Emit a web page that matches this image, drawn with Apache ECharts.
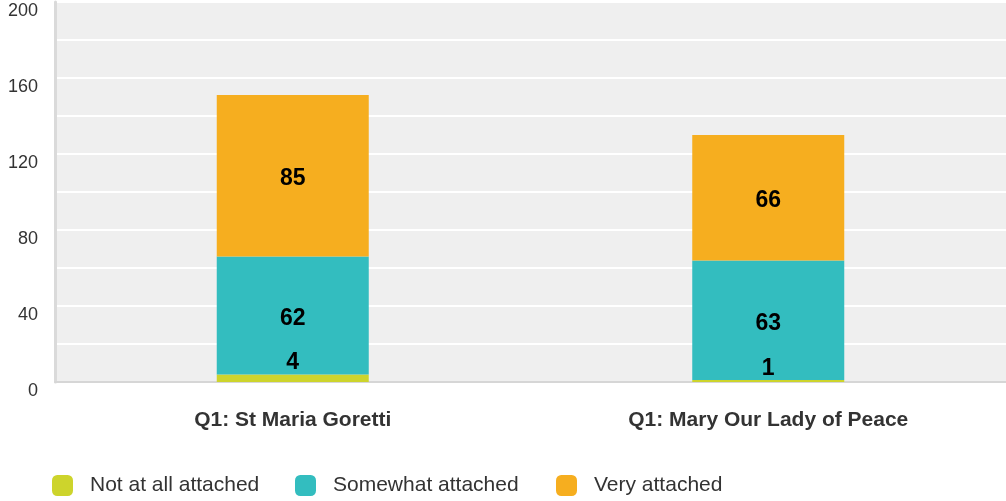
<!DOCTYPE html>
<html>
<head>
<meta charset="utf-8">
<title>Attachment chart</title>
<style>
html, body { margin: 0; padding: 0; background: #fff; }
#chart { width: 1006px; height: 501px; }
</style>
</head>
<body>
<div id="chart"></div>
<script src="https://cdn.jsdelivr.net/npm/echarts@6/dist/echarts.min.js"></script>
<script>
var categories = ['Q1: St Maria Goretti', 'Q1: Mary Our Lady of Peace'];
var seriesNames = ['Not at all attached', 'Somewhat attached', 'Very attached'];
var notAtAll = [4, 1];
var somewhat = [62, 63];
var very = [85, 66];
var yTicks = [0, 40, 80, 120, 160, 200];

var FONT = 'Liberation Sans, Arial, sans-serif';
var myChart = echarts.init(document.getElementById('chart'));

var lbl = {
    show: true,
    color: '#000',
    fontWeight: 'bold',
    fontSize: 23,
    fontFamily: FONT
};

// one legend per item so each sits where it does in the original
var legendLeft = [52, 295, 556];
var legends = seriesNames.map(function (n, i) {
    return {
        left: legendLeft[i], top: 475, padding: 0,
        itemWidth: 21, itemHeight: 21,
        icon: 'roundRect',
        textStyle: { color: '#333', fontSize: 21, fontFamily: FONT, padding: [0, 0, 0, 12] },
        data: [n]
    };
});

myChart.setOption({
    animation: false,
    grid: {
        left: 55, right: 0, top: 2, bottom: 119,
        outerBoundsMode: 'none', containLabel: false,
        show: true, backgroundColor: '#efefef', borderWidth: 0
    },
    legend: legends,
    xAxis: {
        type: 'category',
        data: categories,
        axisLine: { lineStyle: { color: '#d6d6d6', width: 2 } },
        axisTick: { show: false },
        axisLabel: {
            color: '#333', fontWeight: 'bold', fontSize: 21, margin: 28,
            fontFamily: FONT
        }
    },
    yAxis: {
        type: 'value', min: 0, max: 200, interval: 20,
        axisLine: { show: true, lineStyle: { color: '#dadada', width: 3 } },
        axisTick: { show: false },
        splitLine: { lineStyle: { color: '#ffffff', width: 2 } },
        axisLabel: {
            color: '#333', fontSize: 18, margin: 17, verticalAlign: 'top',
            fontFamily: FONT,
            formatter: function (v) { return yTicks.indexOf(v) >= 0 ? String(v) : ''; }
        }
    },
    series: [
        {
            name: seriesNames[0], type: 'bar', stack: 'a', barWidth: 152,
            itemStyle: { color: '#cdd42c' },
            label: Object.assign({ position: 'top', distance: 0 }, lbl),
            data: notAtAll
        },
        {
            name: seriesNames[1], type: 'bar', stack: 'a',
            itemStyle: { color: '#33bdbf' },
            label: Object.assign({ position: 'inside', offset: [0, 3] }, lbl),
            data: somewhat
        },
        {
            name: seriesNames[2], type: 'bar', stack: 'a',
            itemStyle: { color: '#f6ae1f' },
            label: Object.assign({ position: 'inside', offset: [0, 3] }, lbl),
            data: very
        }
    ]
});
</script>
</body>
</html>
